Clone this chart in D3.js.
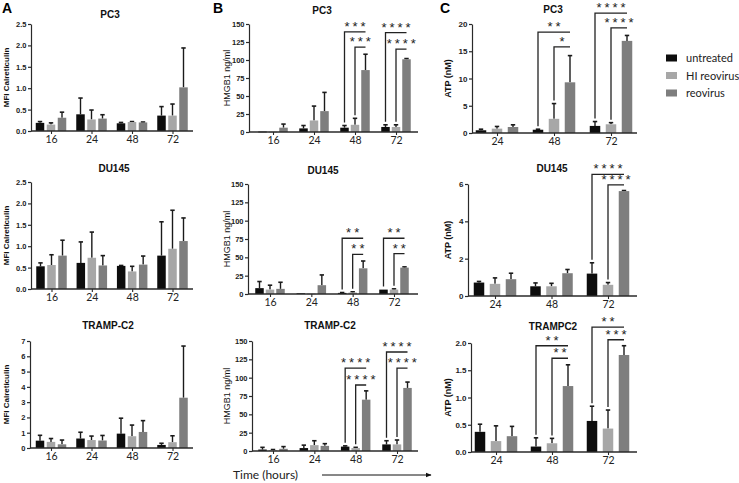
<!DOCTYPE html>
<html><head><meta charset="utf-8">
<script src="https://cdn.jsdelivr.net/npm/d3@7"></script>
<style>body{margin:0;background:#fff} svg{display:block}</style>
</head><body><svg id="c" width="739" height="483"></svg>
<script>
// ---------- DATA ----------
const seriesNames = ["untreated", "HI reovirus", "reovirus"];
const seriesColors = ["#0d0d0d", "#a7a7a7", "#7e7e7e"];
const timesAB = ["16", "24", "48", "72"];
const timesC = ["24", "48", "72"];

// rows = time point, columns = series (untreated, HI reovirus, reovirus)
const crtPC3Mean   = [[0.19,0.15,0.31],[0.39,0.27,0.29],[0.18,0.21,0.20],[0.36,0.36,1.02]];
const crtPC3Top    = [[0.22,0.19,0.44],[0.77,0.49,0.38],[0.20,0.22,0.21],[0.57,0.63,1.94]];
const crtDUMean    = [[0.53,0.56,0.78],[0.61,0.73,0.55],[0.54,0.41,0.57],[0.78,0.94,1.12]];
const crtDUTop     = [[0.61,0.80,1.14],[1.10,1.33,0.78],[0.55,0.53,0.77],[1.57,1.84,1.66]];
const crtTrampMean = [[0.48,0.40,0.24],[0.62,0.52,0.49],[0.94,0.77,1.05],[0.20,0.38,3.29]];
const crtTrampTop  = [[0.83,0.62,0.52],[1.03,0.78,0.82],[1.95,1.50,1.79],[0.31,0.80,6.67]];

const hmgbPC3Mean   = [[0.6,0.4,6],[5,16,29],[6,10,86],[7,7,101]];
const hmgbPC3Top    = [[0.6,0.4,11],[9,36,55],[9,19,108],[10,10,102]];
const hmgbDUMean    = [[8,6,7],[1,0.6,12],[1.5,2,35],[6,6,36]];
const hmgbDUTop     = [[17,12,16],[1,0.6,26],[2,3,45],[6,7,37]];
const hmgbTrampMean = [[2,1,3],[4,8,7],[6,4,70],[9,9,86]];
const hmgbTrampTop  = [[5,2,6],[8,14,10],[7,5,82],[14,15,94]];

const atpPC3Mean   = [[0.5,0.8,1.1],[0.6,2.6,9.3],[1.3,1.6,16.9]];
const atpPC3Top    = [[0.7,1.2,1.5],[0.7,5.4,14.2],[2.1,1.9,17.9]];
const atpDUMean    = [[0.72,0.65,0.90],[0.52,0.52,1.22],[1.20,0.60,5.62]];
const atpDUTop     = [[0.78,0.97,1.22],[0.70,0.68,1.42],[1.78,0.72,5.65]];
const atpTrampMean = [[0.37,0.20,0.29],[0.10,0.16,1.21],[0.57,0.43,1.78]];
const atpTrampTop  = [[0.51,0.48,0.47],[0.26,0.25,1.60],[0.84,0.77,1.95]];

const ticksCrt       = [0, 0.5, 1, 1.5, 2, 2.5];
const ticksCrtTramp  = [0, 1, 2, 3, 4, 5, 6, 7];
const ticksHmgb      = [0, 25, 50, 75, 100, 125, 150];
const ticksAtpPC3    = [0, 5, 10, 15, 20];
const ticksAtpDU     = [0, 2, 4, 6];
const ticksAtpTramp  = [0, 0.5, 1, 1.5, 2];

// significance: [time, compared series index, bracket level (data units), label]
const sigHmgbPC3   = [["48",0,139,"***"],["48",1,118,"***"],["72",0,138,"****"],["72",1,115,"****"]];
const sigHmgbDU    = [["48",0,76,"**"],["48",1,54,"**"],["72",0,76,"**"],["72",1,55,"**"]];
const sigHmgbTramp = [["48",0,113,"****"],["48",1,90,"****"],["72",0,135,"****"],["72",1,113,"****"]];
const sigAtpPC3    = [["48",0,18.5,"**"],["48",1,15.8,"*"],["72",0,22,"****"],["72",1,19.3,"****"]];
const sigAtpDU     = [["72",0,6.52,"****"],["72",1,5.95,"****"]];
const sigAtpTramp  = [["48",0,1.95,"**"],["48",1,1.72,"**"],["72",0,2.29,"**"],["72",1,2.06,"***"]];

// ---------- LAYOUT ----------
const f1 = d3.format(".1f"), f0 = d3.format("d");
const colA = {cats: timesAB, bw: 8.5, step: 11, axisEnd: 193, ylabel: "MFI Calreticulin", ylx: 9, ylFont: "bold 8px 'Liberation Sans', Arial, sans-serif", tickFont: "bold 7.5px 'Liberation Sans', Arial, sans-serif"};
const colB = {cats: timesAB, bw: 8.5, step: 10.5, axisEnd: 418, ylabel: "HMGB1 ng/ml", ylx: 230, ylFont: "9px 'Liberation Sans', Arial, sans-serif", tickFont: "bold 7.5px 'Liberation Sans', Arial, sans-serif"};
const colC = {cats: timesC, bw: 10.5, step: 16, axisEnd: 637, ylabel: "ATP (nM)", ylx: 451, ylFont: "bold 9px 'Liberation Sans', Arial, sans-serif", tickFont: "bold 8px 'Liberation Sans', Arial, sans-serif"};

const panels = [
  Object.assign({}, colA, {title:"PC3", tx:110, ty:18, mean:crtPC3Mean, top:crtPC3Top, ticks:ticksCrt, fmt:f1, axisX:31, yTop:24, yBot:131, c0:51, c1:172.5, sig:[]}),
  Object.assign({}, colA, {title:"DU145", tx:114, ty:172, mean:crtDUMean, top:crtDUTop, ticks:ticksCrt, fmt:f1, axisX:31, yTop:182, yBot:289, c0:51.5, c1:172.5, sig:[]}),
  Object.assign({}, colA, {title:"TRAMP-C2", tx:108, ty:329, mean:crtTrampMean, top:crtTrampTop, ticks:ticksCrtTramp, fmt:f0, axisX:30, yTop:341, yBot:448, c0:51, c1:172.5, sig:[]}),
  Object.assign({}, colB, {title:"PC3", tx:322, ty:14, mean:hmgbPC3Mean, top:hmgbPC3Top, ticks:ticksHmgb, fmt:f0, axisX:249, yTop:24, yBot:132, c0:273, c1:396, sig:sigHmgbPC3}),
  Object.assign({}, colB, {title:"DU145", tx:323, ty:174, mean:hmgbDUMean, top:hmgbDUTop, ticks:ticksHmgb, fmt:f0, axisX:248, yTop:184, yBot:294, c0:270, c1:394, sig:sigHmgbDU}),
  Object.assign({}, colB, {title:"TRAMP-C2", tx:330, ty:329, mean:hmgbTrampMean, top:hmgbTrampTop, ticks:ticksHmgb, fmt:f0, axisX:252, yTop:341, yBot:451, c0:273, c1:397, sig:sigHmgbTramp}),
  Object.assign({}, colC, {title:"PC3", tx:553, ty:13, mean:atpPC3Mean, top:atpPC3Top, ticks:ticksAtpPC3, fmt:f0, axisX:472, yTop:24, yBot:133, c0:497, c1:611, sig:sigAtpPC3}),
  Object.assign({}, colC, {title:"DU145", tx:552, ty:172, mean:atpDUMean, top:atpDUTop, ticks:ticksAtpDU, fmt:f0, axisX:468, yTop:184, yBot:296, c0:495, c1:608, sig:sigAtpDU}),
  Object.assign({}, colC, {title:"TRAMPC2", tx:553, ty:330, mean:atpTrampMean, top:atpTrampTop, ticks:ticksAtpTramp, fmt:f1, axisX:471, yTop:343, yBot:452, c0:496, c1:608, sig:sigAtpTramp})
];

const svg = d3.select("#c");
const axisColor = "#2a2a2a";
const xFont = "10.5px Lato, 'Open Sans', sans-serif";

function drawPanel(p) {
  const g = svg.append("g");
  const y = d3.scaleLinear().domain([0, p.ticks[p.ticks.length - 1]]).range([p.yBot, p.yTop]);
  const x = d3.scalePoint().domain(p.cats).range([p.c0, p.c1]);
  const pad = 1 - p.bw / p.step;
  const xs = d3.scaleBand().domain(d3.range(seriesNames.length))
    .range([-1.5 * p.step, 1.5 * p.step]).paddingInner(pad).paddingOuter(pad / 2);

  // bars + error bars
  p.cats.forEach((c, i) => {
    seriesNames.forEach((s, k) => {
      const m = p.mean[i][k], t = p.top[i][k];
      const bx = x(c) + xs(k), cx = bx + xs.bandwidth() / 2;
      if (t > m) {
        g.append("line").attr("x1", cx).attr("x2", cx).attr("y1", y(m)).attr("y2", y(t))
          .attr("stroke", "#1a1a1a").attr("stroke-width", 1.4);
        g.append("line").attr("x1", cx - 2.2).attr("x2", cx + 2.2).attr("y1", y(t)).attr("y2", y(t))
          .attr("stroke", "#1a1a1a").attr("stroke-width", 1.6);
      }
      g.append("rect").attr("x", bx).attr("width", xs.bandwidth())
        .attr("y", y(m)).attr("height", Math.max(0.8, y(0) - y(m)))
        .attr("fill", seriesColors[k]);
    });
  });

  // y axis
  const ya = g.append("g").attr("transform", `translate(${p.axisX},0)`)
    .call(d3.axisLeft(y).tickValues(p.ticks).tickFormat(p.fmt).tickSize(3).tickSizeOuter(0).tickPadding(1.5));
  ya.selectAll("path,line").attr("stroke", axisColor).attr("stroke-width", 1.2);
  ya.selectAll("text").style("font", p.tickFont).attr("fill", "#222");

  // x axis
  const xa = g.append("g").attr("transform", `translate(0,${p.yBot})`)
    .call(d3.axisBottom(x).tickSize(3).tickSizeOuter(0).tickPadding(2));
  xa.select(".domain").remove();
  xa.selectAll("line").attr("stroke", axisColor).attr("stroke-width", 1.1);
  xa.selectAll("text").style("font", xFont).attr("fill", "#222");
  g.append("line").attr("x1", p.axisX).attr("x2", p.axisEnd).attr("y1", p.yBot).attr("y2", p.yBot)
    .attr("stroke", axisColor).attr("stroke-width", 1.3);

  // title
  g.append("text").attr("x", p.tx).attr("y", p.ty).attr("text-anchor", "middle")
    .style("font", "bold 10px 'Liberation Sans', Arial, sans-serif").attr("fill", "#111").text(p.title);

  // y label
  g.append("text").attr("transform", `translate(${p.ylx},${(p.yTop + p.yBot) / 2}) rotate(-90)`)
    .attr("text-anchor", "middle").style("font", p.ylFont).attr("fill", "#111").text(p.ylabel);

  // significance brackets
  p.sig.forEach(([time, from, level, label]) => {
    const i = p.cats.indexOf(time);
    const xl = x(time) + xs(from) + xs.bandwidth() / 2;
    const xr = x(time) + xs(2) + xs.bandwidth() / 2;
    const yl = y(level), yb = y(p.top[i][from]) - 3;
    g.append("path").attr("d", `M${xl},${yb}V${yl}H${xr}`)
      .attr("fill", "none").attr("stroke", "#222").attr("stroke-width", 1.3);
    g.append("text").attr("x", (xl + xr) / 2 + 1.5).attr("y", yl - 1).attr("text-anchor", "middle")
      .style("font", "13px 'Liberation Sans', Arial, sans-serif").style("letter-spacing", "3px")
      .attr("fill", "#222").text(label);
  });
}
panels.forEach(drawPanel);

// panel letters
[["A", 2, 13], ["B", 213, 13], ["C", 440, 13]].forEach(([t, lx, ly]) =>
  svg.append("text").attr("x", lx).attr("y", ly)
    .style("font", "bold 14px 'Liberation Sans', Arial, sans-serif").attr("fill", "#000").text(t));

// legend
const leg = svg.append("g");
seriesNames.forEach((s, k) => {
  const ly = 58 + k * 17.5;
  leg.append("rect").attr("x", 666).attr("y", ly - 3.5).attr("width", 11).attr("height", 7).attr("fill", seriesColors[k]);
  leg.append("text").attr("x", 686).attr("y", ly + 4).style("font", "11px Lato, 'Open Sans', sans-serif")
    .attr("fill", "#222").text(s);
});

// time axis annotation
svg.append("defs").append("marker").attr("id", "arr").attr("viewBox", "0 0 10 10")
  .attr("refX", 9).attr("refY", 5).attr("markerWidth", 6).attr("markerHeight", 6).attr("orient", "auto")
  .append("path").attr("d", "M0,1L10,5L0,9Z").attr("fill", "#111");
svg.append("text").attr("x", 233).attr("y", 479).style("font", "12px Lato, 'Open Sans', sans-serif")
  .attr("fill", "#222").text("Time (hours)");
svg.append("line").attr("x1", 322).attr("x2", 431).attr("y1", 475).attr("y2", 475)
  .attr("stroke", "#111").attr("stroke-width", 1).attr("marker-end", "url(#arr)");
</script></body></html>
